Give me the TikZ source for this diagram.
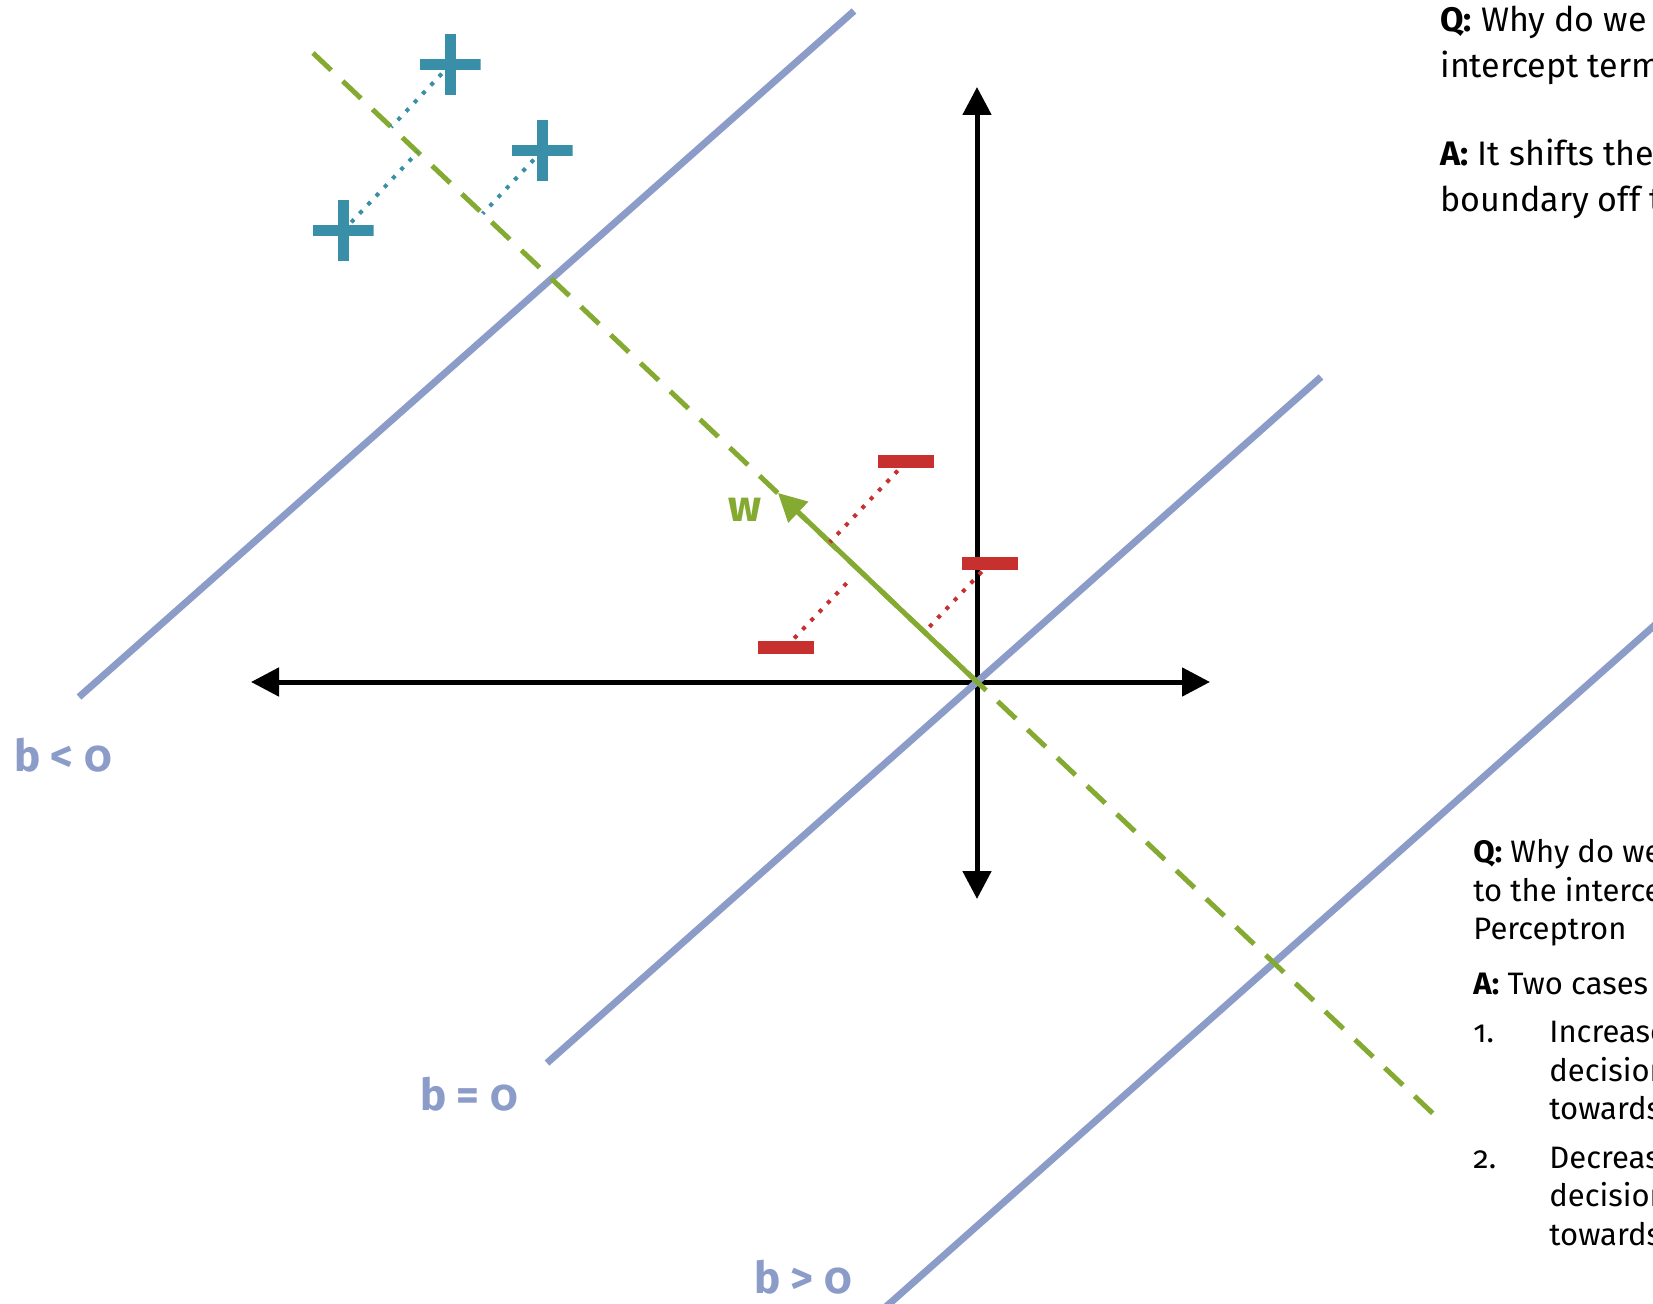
\documentclass[tikz,border=0pt]{standalone}
\usepackage{fontspec}
\setmainfont{Fira Sans}[Numbers=OldStyle]
\usetikzlibrary{arrows.meta,calc}
\pgfdeclarelayer{background}
\pgfsetlayers{background,main}
\definecolor{bndclr}{RGB}{140,156,200}
\definecolor{posclr}{RGB}{58,143,168}
\definecolor{negclr}{RGB}{200,48,48}
\definecolor{wclr}{RGB}{132,170,50}
\tikzset{
  axis/.style={line width=2.5pt, {Triangle[length=14pt,width=14pt]}-{Triangle[length=14pt,width=14pt]}},
  boundary/.style={bndclr, line width=3.5pt},
  bndlabel/.style={bndclr, font=\fontsize{22}{26}\selectfont\bfseries, anchor=base, inner sep=0pt},
  wline/.style={wclr, line width=2.5pt, dash pattern=on 12.5pt off 8pt},
  warrow/.style={wclr, line width=2.5pt, -{Triangle[length=14pt,width=14pt]}},
  possign/.style={minimum size=30.5pt, inner sep=0pt,
    path picture={
      \fill[posclr] ([yshift=-2.75pt]path picture bounding box.west) rectangle ([yshift=2.75pt]path picture bounding box.east);
      \fill[posclr] ([xshift=-2.75pt]path picture bounding box.south) rectangle ([xshift=2.75pt]path picture bounding box.north);}},
  negsign/.style={fill=negclr, minimum width=28pt, minimum height=6.5pt, inner sep=0pt},
  projpos/.style={posclr, line width=2pt, dash pattern=on 2pt off 4pt},
  projneg/.style={negclr, line width=2pt, dash pattern=on 2pt off 4pt},
  qabox/.style={font=\fontsize{17}{23}\selectfont, align=left, anchor=base west, inner sep=0pt}
}
\begin{document}
\begin{tikzpicture}[x=0.5pt, y=-0.5pt]
  \useasboundingbox (0,0) rectangle (1653,1304);
  \clip (0,0) rectangle (1653,1304);
  % axes and w
  \coordinate (O) at (977,682);
  \coordinate (xl) at (251,682);
  \coordinate (xr) at (1210,682);
  \coordinate (yt) at (977,87);
  \coordinate (yb) at (977,899);
  \coordinate (gA) at (313,53);
  \coordinate (gB) at (1444,1124);
  \coordinate (wtip) at (778,493);
  % decision boundaries
  \coordinate (bl1) at (79,697);   \coordinate (bl2) at (854,11);
  \coordinate (bz1) at (547,1063); \coordinate (bz2) at (1321,377);
  \coordinate (bg1) at (871,1320); \coordinate (bg2) at (1700,585);
  % training points
  \node[possign] (p1) at (450,65) {};
  \node[possign] (p2) at (542,151) {};
  \node[possign] (p3) at (343,231) {};
  \node[negsign] (m1) at (906,462) {};
  \node[negsign] (m2) at (990,563) {};
  \node[negsign] (m3) at (786,647) {};
  % labels
  \node[wclr, font=\fontsize{22}{26}\selectfont\bfseries, anchor=base, inner sep=0pt] (wlab) at (745,522) {w};
  \node[bndlabel] (lneg) at (63,771) {b < 0};
  \node[bndlabel] (lzero) at (469,1110) {b = 0};
  \node[bndlabel] (lpos) at (803,1293) {b > 0};
  % questions (base = last line)
  \node[qabox] (qtop) at (1440,212) {\textbf{Q:} Why do we\\ intercept term\\[21pt]
    \textbf{A:} It shifts the\\ boundary off the};
  \node[qabox, font=\fontsize{15.5}{19.25}\selectfont] (qbot) at (1473,1245) {\textbf{Q:} Why do we\\
    to the intercept\\ Perceptron\\[8pt]
    \textbf{A:} Two cases\\[5pt]
    \makebox[38pt][l]{1.}Increase\\ \hspace*{38pt}decision\\ \hspace*{38pt}towards\\[5pt]
    \makebox[38pt][l]{2.}Decrease\\ \hspace*{38pt}decision\\ \hspace*{38pt}towards};
  \begin{pgfonlayer}{background}
    \draw[axis] (xl) -- (xr);
    \draw[axis] (yt) -- (yb);
    \draw[boundary] (bl1) -- (bl2);
    \draw[boundary] (bz1) -- (bz2);
    \draw[boundary] (bg1) -- (bg2);
    \draw[wline] (gA) -- (gB);
    \draw[warrow] (O) -- (wtip);
    % projections onto w
    \draw[projpos] (p1.center) -- ($(gA)!(p1)!(gB)$);
    \draw[projpos] (p2.center) -- ($(gA)!(p2)!(gB)$);
    \draw[projpos] (p3.center) -- ($(gA)!(p3)!(gB)$);
    \draw[projneg] (m1.center) -- ($(O)!(m1)!(wtip)$);
    \draw[projneg] (m2.center) -- ($(O)!(m2)!(wtip)$);
    \draw[projneg, shorten >=8pt] (m3.center) -- ($(O)!(m3)!(wtip)$);
  \end{pgfonlayer}
\end{tikzpicture}
\end{document}
